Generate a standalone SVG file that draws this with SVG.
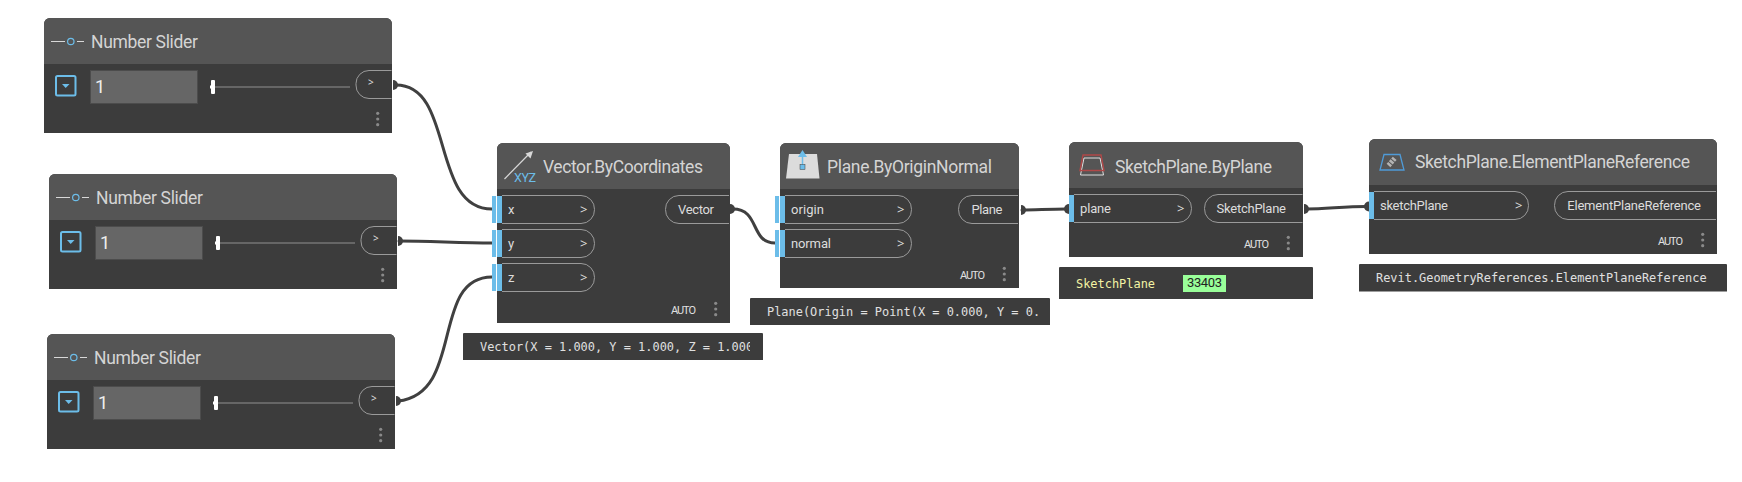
<svg xmlns="http://www.w3.org/2000/svg" width="1742" height="482" viewBox="0 0 1742 482">
<style>
.body{fill:#3c3c3c}
.head{fill:#555}
.title{font:17.500px Roboto,sans-serif;fill:#d4d4d4}
.port{font:13px Roboto,sans-serif;fill:#dcdcdc}
.chev{font:13px "Noto Sans",sans-serif;fill:#dcdcdc}
.auto{font:11px Roboto,sans-serif;fill:#e0e0e0}
.pill{fill:none;stroke:#9a9a9a;stroke-width:1}
.bar{fill:#6cbde9}
.dot{fill:#8a8a8a}
.tip{fill:#3c3c3c}
.mono{font:11.950px "DejaVu Sans Mono",monospace;fill:#e0e0e0}
.wire{fill:none;stroke:#404040;stroke-width:3;stroke-linecap:round}
.end{fill:#404040}
.val{font:18px Roboto,sans-serif;fill:#eee}
</style>
<defs>
<clipPath id="tipclip"><rect x="463" y="333" width="287" height="27"/></clipPath>
<clipPath id="tipclip2"><rect x="750" y="297" width="291" height="28"/></clipPath>
<g id="dots"><circle cx="0" cy="-5.700" r="1.600" class="dot"/><circle cx="0" cy="0" r="1.600" class="dot"/><circle cx="0" cy="5.700" r="1.600" class="dot"/></g>
<path id="src" class="end" d="M0-5A5 5 0 0 1 0 5Z"/>
<path id="dst" class="end" d="M0-5A5 5 0 0 0 0 5Z"/>
<g id="slider">
<path class="body" d="M0 115V6a6 6 0 0 1 6-6H342a6 6 0 0 1 6 6V115Z"/>
<path class="head" d="M0 46V6a6 6 0 0 1 6-6H342a6 6 0 0 1 6 6V46Z"/>
<path d="M7 23.500H21M33 23.500H40" stroke="#d8d8d8" stroke-width="1" fill="none"/>
<circle cx="26.800" cy="23.500" r="3.200" fill="none" stroke="#6cbde9" stroke-width="1.200"/>
<text class="title" x="47" y="30" textLength="107">Number Slider</text>
<rect x="12" y="58" width="19.500" height="19.500" rx="1.500" fill="none" stroke="#6cbde9" stroke-width="2"/>
<path d="M18 66H25.500L21.700 70Z" fill="#6cbde9"/>
<rect x="46.500" y="52.500" width="107" height="33" fill="#666" stroke="#4c4c4c"/>
<text class="val" x="51" y="75">1</text>
<rect x="166" y="68" width="140" height="2" fill="#666"/>
<rect x="167" y="62" width="4" height="14" rx="1" fill="#fff"/>
<rect x="166" y="67.500" width="2" height="3" fill="#fff"/>
<path class="pill" d="M347.500 52.500H325a13 13 0 0 0-13 13V67a13 13 0 0 0 13 13.500H347.500"/>
<text x="324" y="68" style="font:10px 'Noto Sans',sans-serif;fill:#ddd">&gt;</text>
<use href="#dots" x="333.700" y="101"/>
</g>
</defs>
<g id="connectors">
<path class="wire" d="M396 85C455 85 430 209 492 209"/>
<path class="wire" d="M399 241C430 241 460 243 492 243"/>
<path class="wire" d="M398 401C465 394 430 277 492 277"/>
<path class="wire" d="M733 209C760 209 750 243 775 243"/>
<path class="wire" d="M1022 210C1035 210 1050 209 1066 209"/>
<path class="wire" d="M1307 209C1325 209 1345 206.500 1366 206.500"/>
<use href="#src" x="393" y="85"/>
<use href="#src" x="398" y="241"/>
<use href="#src" x="396" y="401"/>
<use href="#src" x="730" y="209"/>
<use href="#src" x="1021" y="210"/>
<use href="#dst" x="1069" y="209"/>
<use href="#src" x="1304" y="209"/>
<use href="#dst" x="1369" y="206.500"/>
</g>
<g id="slider1" transform="translate(44 18)"><use href="#slider"/></g>
<g id="slider2" transform="translate(49 174)"><use href="#slider"/></g>
<g id="slider3" transform="translate(47 334)"><use href="#slider"/></g>
<g id="vector">
<path class="body" d="M497 323V149a6 6 0 0 1 6-6H724a6 6 0 0 1 6 6V323Z"/>
<path class="head" d="M497 189V149a6 6 0 0 1 6-6H724a6 6 0 0 1 6 6V189Z"/>
<path d="M504.500 179L531 152" stroke="#d8d8d8" stroke-width="1.200" fill="none"/>
<path d="M533 151L525.500 153.500L530.500 158.500Z" fill="#d8d8d8"/>
<text x="514" y="182.300" style="font:12.500px Roboto,sans-serif;fill:#6cbde9" textLength="22">XYZ</text>
<text class="title" x="543" y="173" textLength="160">Vector.ByCoordinates</text>
<rect class="bar" x="492" y="196" width="4" height="27"/><rect class="bar" x="497" y="196" width="5" height="27"/>
<rect class="bar" x="492" y="230" width="4" height="27"/><rect class="bar" x="497" y="230" width="5" height="27"/>
<rect class="bar" x="492" y="264" width="4" height="27"/><rect class="bar" x="497" y="264" width="5" height="27"/>
<path class="pill" d="M502 195.500H581a13.500 13.500 0 0 1 13.500 14a13.500 13.500 0 0 1-13.500 14H502"/>
<path class="pill" d="M502 229.500H581a13.500 13.500 0 0 1 13.500 14a13.500 13.500 0 0 1-13.500 14H502"/>
<path class="pill" d="M502 263.500H581a13.500 13.500 0 0 1 13.500 14a13.500 13.500 0 0 1-13.500 14H502"/>
<text class="port" x="508" y="214">x</text><text class="chev" x="580" y="214">&gt;</text>
<text class="port" x="508" y="248">y</text><text class="chev" x="580" y="248">&gt;</text>
<text class="port" x="508" y="282">z</text><text class="chev" x="580" y="282">&gt;</text>
<path class="pill" d="M729 195.500H679a13.500 13.500 0 0 0-13.500 14a13.500 13.500 0 0 0 13.500 14H729"/>
<text class="port" x="678" y="214" textLength="36">Vector</text>
<text class="auto" x="671" y="313.500" textLength="25">AUTO</text>
<use href="#dots" x="715.700" y="309"/>
</g>
<g id="vectortip">
<path class="tip" d="M463 334a1 1 0 0 1 1-1H762a1 1 0 0 1 1 1V360H463Z"/>
<text class="mono" x="480" y="351" clip-path="url(#tipclip)">Vector(X = 1.000, Y = 1.000, Z = 1.000</text>
</g>
<g id="plane">
<path class="body" d="M780 288V149a6 6 0 0 1 6-6H1013a6 6 0 0 1 6 6V288Z"/>
<path class="head" d="M780 189V149a6 6 0 0 1 6-6H1013a6 6 0 0 1 6 6V189Z"/>
<path d="M789 154H817L819.500 178.500H786Z" fill="#dcdcdc"/>
<path d="M802.500 152V166" stroke="#6cbde9" stroke-width="1.500"/>
<path d="M802.500 150L798 157H807Z" fill="#6cbde9"/>
<rect x="800" y="164.500" width="5" height="5" fill="#6cbde9" stroke="#3c3c3c" stroke-width=".5"/>
<text class="title" x="827" y="173" textLength="165">Plane.ByOriginNormal</text>
<rect class="bar" x="775" y="196" width="4" height="27"/><rect class="bar" x="780" y="196" width="5" height="27"/>
<rect class="bar" x="775" y="230" width="4" height="27"/><rect class="bar" x="780" y="230" width="5" height="27"/>
<path class="pill" d="M785 195.500H898a13.500 13.500 0 0 1 13.500 14a13.500 13.500 0 0 1-13.500 14H785"/>
<path class="pill" d="M785 229.500H898a13.500 13.500 0 0 1 13.500 14a13.500 13.500 0 0 1-13.500 14H785"/>
<text class="port" x="791" y="214" textLength="33">origin</text><text class="chev" x="897" y="214">&gt;</text>
<text class="port" x="791" y="248" textLength="40">normal</text><text class="chev" x="897" y="248">&gt;</text>
<path class="pill" d="M1018 195.500H972a13.500 13.500 0 0 0-13.500 14a13.500 13.500 0 0 0 13.500 14H1018"/>
<text class="port" x="971.500" y="214" textLength="31">Plane</text>
<text class="auto" x="960" y="278.500" textLength="25">AUTO</text>
<use href="#dots" x="1004.300" y="274"/>
</g>
<g id="planetip">
<path class="tip" d="M750 299a1 1 0 0 1 1-1H1049a1 1 0 0 1 1 1V325H750Z"/>
<text class="mono" x="767" y="315.500" clip-path="url(#tipclip2)">Plane(Origin = Point(X = 0.000, Y = 0.</text>
</g>
<g id="sketchplane">
<path class="body" d="M1069 257V148a6 6 0 0 1 6-6H1297a6 6 0 0 1 6 6V257Z"/>
<path class="head" d="M1069 188V148a6 6 0 0 1 6-6H1297a6 6 0 0 1 6 6V188Z"/>
<path d="M1084 158H1100L1103.500 175H1080.500Z" fill="none" stroke="#e0e0e0" stroke-width="1"/>
<path d="M1083 155H1101L1104 170.500H1080Z" fill="none" stroke="#b04848" stroke-width="1.400"/>
<text class="title" x="1115" y="172.500" textLength="157">SketchPlane.ByPlane</text>
<rect class="bar" x="1069" y="195" width="5" height="27"/>
<path class="pill" d="M1074 194.500H1178a13.500 13.500 0 0 1 13.500 14a13.500 13.500 0 0 1-13.500 14H1074"/>
<text class="port" x="1080" y="213" textLength="31">plane</text><text class="chev" x="1177" y="213">&gt;</text>
<path class="pill" d="M1302.500 194.500H1218a13.500 13.500 0 0 0-13.500 14a13.500 13.500 0 0 0 13.500 14H1302.500"/>
<text class="port" x="1216.500" y="213" textLength="69.500">SketchPlane</text>
<text class="auto" x="1244" y="247.500" textLength="25">AUTO</text>
<use href="#dots" x="1288.300" y="243"/>
</g>
<g id="sketchtip">
<path class="tip" d="M1059 268a1 1 0 0 1 1-1H1312a1 1 0 0 1 1 1V299H1059Z"/>
<text class="mono" x="1076" y="288" style="fill:#f3f3a4">SketchPlane</text>
<rect x="1183" y="275" width="43" height="17" fill="#99ff99"/>
<text x="1187" y="287" style="font:13px Roboto,sans-serif;fill:#222" textLength="35">33403</text>
</g>
<g id="elemref">
<path class="body" d="M1369 254V145a6 6 0 0 1 6-6H1711a6 6 0 0 1 6 6V254Z"/>
<path class="head" d="M1369 185V145a6 6 0 0 1 6-6H1711a6 6 0 0 1 6 6V185Z"/>
<path d="M1384 154.500H1400L1404 170H1380Z" fill="none" stroke="#4f9bd8" stroke-width="1.300"/>
<path d="M1388.500 165.500L1395 158" stroke="#b4b4b4" stroke-width="5" stroke-dasharray="2.500 1"/>
<text class="title" x="1415" y="168" textLength="275">SketchPlane.ElementPlaneReference</text>
<rect class="bar" x="1369" y="192" width="5" height="27"/>
<path class="pill" d="M1374 191.500H1515a13.500 13.500 0 0 1 13.500 14a13.500 13.500 0 0 1-13.500 14H1374"/>
<text class="port" x="1380" y="210" textLength="68">sketchPlane</text><text class="chev" x="1515" y="210">&gt;</text>
<path class="pill" d="M1716 191.500H1568a13.500 13.500 0 0 0-13.500 14a13.500 13.500 0 0 0 13.500 14H1716"/>
<text class="port" x="1567.300" y="210" textLength="133.700">ElementPlaneReference</text>
<text class="auto" x="1658" y="244.500" textLength="25">AUTO</text>
<use href="#dots" x="1702.700" y="240"/>
</g>
<g id="elemreftip">
<path class="tip" d="M1359 265a1 1 0 0 1 1-1H1726a1 1 0 0 1 1 1V291.500H1359Z"/>
<text class="mono" x="1376" y="282">Revit.GeometryReferences.ElementPlaneReference</text>
</g>
</svg>
